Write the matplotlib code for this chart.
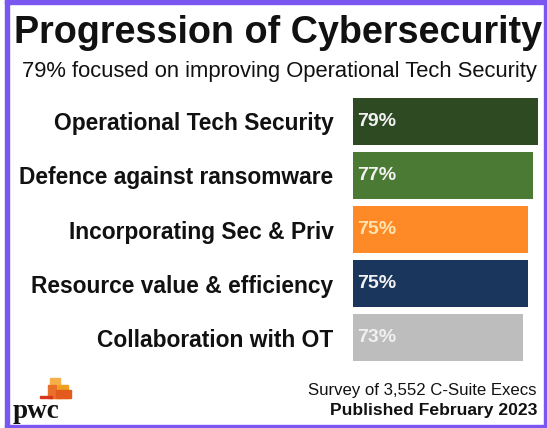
import numpy as np
from matplotlib import pyplot as plt
from matplotlib.patches import Rectangle

# data
categories = ['Operational Tech Security', 'Defence against ransomware',
              'Incorporating Sec & Priv', 'Resource value & efficiency',
              'Collaboration with OT']
values = [79, 77, 75, 75, 73]
colors = ['#2d4a22', '#4a7a33', '#fd8a26', '#1b365d', '#bdbdbd']
label_colors = ['#f2f2f2', '#f2f2f2', '#fde3b0', '#f2f2f2', '#f0f0f0']

plt.rcParams['font.family'] = ['Liberation Sans', 'DejaVu Sans']

W, H = 547, 428
fig = plt.figure(figsize=(W/100, H/100), dpi=100)
fig.patch.set_facecolor('white')

# bar axes
x0, x1 = 353, 540
y0, y1 = 94, 365
ax = fig.add_axes([x0/W, 1 - y1/H, (x1 - x0)/W, (y1 - y0)/H])
ypos = np.arange(len(categories))
ax.barh(ypos, values, height=0.87, color=colors)
ax.set_xlim(2, 80)
ax.set_ylim(4.5, -0.5)
ax.set_yticks(ypos)
ax.set_yticklabels(categories, fontsize=16.4, fontweight='bold', color='#111111')
ax.tick_params(axis='y', length=0, pad=14)
ax.set_xticks([])
for s in ax.spines.values():
    s.set_visible(False)
trans = ax.get_yaxis_transform()
for i, v in enumerate(values):
    ax.text(0.022, i, f'{v}%', transform=trans, ha='left', va='center',
            fontsize=14, fontweight='bold', color=label_colors[i])

# titles
fig.text(278/W, 1 - 33/H, 'Progression of Cybersecurity', ha='center', va='center',
         fontsize=27.2, fontweight='bold', color='#111111')
fig.text(279.5/W, 1 - 72/H, '79% focused on improving Operational Tech Security',
         ha='center', va='center', fontsize=15.8, color='#111111')

# footer
fig.text(537/W, 1 - 390/H, 'Survey of 3,552 C-Suite Execs', ha='right', va='center',
         fontsize=12.1, color='#111111')
fig.text(537/W, 1 - 411/H, 'Published February 2023', ha='right', va='center',
         fontsize=12.6, fontweight='bold', color='#111111')

# pwc logo
fig.text(13/W, 1 - 412/H, 'pwc', ha='left', va='center', fontsize=19.5,
         fontweight='bold', family='Liberation Serif', color='#111111')
logo = [(50, 378, 10, 20, '#f6b04a'), (58, 385, 10, 13, '#f0a020'),
        (48, 385, 8, 13, '#e8702a'), (56, 390, 15, 8, '#e35b1c'),
        (40, 396, 12, 2, '#d9361e')]
for lx, ly, lw, lh, lc in logo:
    fig.patches.append(Rectangle((lx/W, 1 - (ly + lh)/H), lw/W, lh/H,
                                 transform=fig.transFigure, color=lc))

# purple frame
frame = '#7b57f2'
for fx, fy, fw, fh in [(5, 0, 4, H), (5, 0, 541, 4), (544, 0, 2, H), (5, 425, 541, 2)]:
    fig.patches.append(Rectangle((fx/W, 1 - (fy + fh)/H), fw/W, fh/H,
                                 transform=fig.transFigure, color=frame))

plt.savefig('out.png', dpi=100)
